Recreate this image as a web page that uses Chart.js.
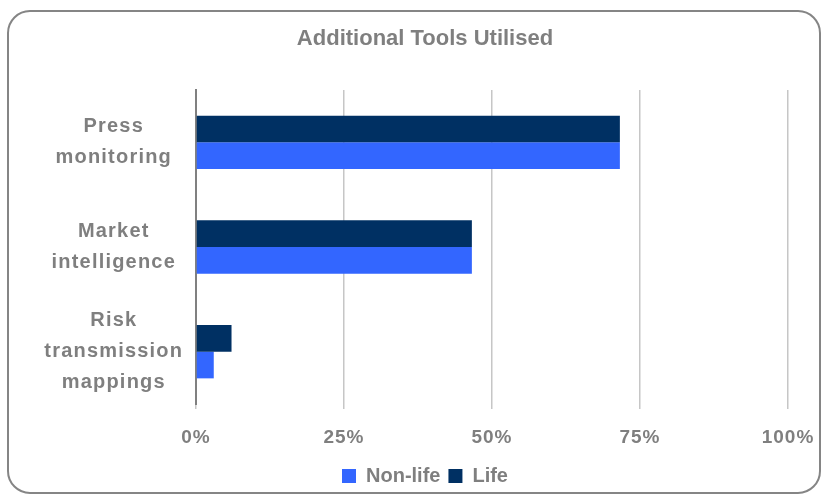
<!DOCTYPE html>
<html>
<head>
<meta charset="utf-8">
<script src="https://cdn.jsdelivr.net/npm/chart.js@4"></script>
<style>
  body { margin: 0; background: #fff; }
  #wrap { position: relative; width: 822px; height: 500px; }
</style>
</head>
<body>
<div id="wrap"><canvas id="myChart" width="822" height="500"></canvas></div>
<script>
const categories = [['Press', 'monitoring'], ['Market', 'intelligence'], ['Risk', 'transmission', 'mappings']];
const lifeValues = [71.6, 46.6, 6.0];
const nonLifeValues = [71.6, 46.6, 3.0];
const tickLabels = ['0%', '25%', '50%', '75%', '100%'];

const grey = '#7f7f7f';
const fontFamily = 'Liberation Sans, Arial, sans-serif';

// rounded frame round the whole chart
const frame = {
    id: 'frame',
    beforeDraw(chart) {
        const c = chart.ctx;
        c.save();
        c.fillStyle = '#fff';
        c.fillRect(0, 0, chart.width, chart.height);
        c.strokeStyle = '#858585';
        c.lineWidth = 2;
        c.beginPath();
        c.roundRect(8, 11, 812, 482, 22);
        c.stroke();
        c.restore();
    }
};

// wider letter spacing on the axis labels, and no clipping of the category labels
function spaced(scale, spacing) {
    const base = Object.getPrototypeOf(scale).drawLabels;
    scale.drawLabels = function (area) {
        const c = this.ctx;
        const old = c.letterSpacing;
        c.letterSpacing = spacing;
        base.call(this, area);
        c.letterSpacing = old;
    };
}
const labelSpacing = {
    id: 'labelSpacing',
    beforeDraw(chart) {
        const y = chart.scales.y;
        if (!y._patched) {
            y._computeLabelArea = () => undefined;
            spaced(y, '1.2px');
            spaced(chart.scales.x, '1px');
            y._patched = true;
        }
    }
};

const ctx = document.getElementById('myChart').getContext('2d');
const myChart = new Chart(ctx, {
    type: 'bar',
    data: {
        labels: categories,
        datasets: [
            { label: 'Life', data: lifeValues, backgroundColor: '#003063' },
            { label: 'Non-life', data: nonLifeValues, backgroundColor: '#3366ff' }
        ]
    },
    options: {
        indexAxis: 'y',
        responsive: false,
        animation: false,
        datasets: { bar: { categoryPercentage: 0.51, barPercentage: 1 } },
        layout: { padding: { left: 62, right: 34, top: 26, bottom: 4 } },
        scales: {
            x: {
                min: 0,
                max: 100,
                afterBuildTicks(scale) {
                    scale.ticks = tickLabels.map((t, i) => ({ value: i * 25 }));
                },
                afterFit(scale) {
                    scale.height = 54;
                    scale.paddingLeft = 0;
                    scale.paddingRight = 0;
                },
                ticks: {
                    callback: (v, i) => tickLabels[i],
                    color: grey,
                    font: { family: fontFamily, size: 19, weight: 'bold' },
                    padding: 17,
                    maxRotation: 0
                },
                grid: { color: '#c6c6c6', lineWidth: 1.5, tickLength: 5 },
                border: { display: false }
            },
            y: {
                afterFit(scale) { scale.width = 134; },
                ticks: {
                    color: grey,
                    crossAlign: 'center',
                    padding: 12,
                    font: { family: fontFamily, size: 20, weight: 'bold', lineHeight: 31 / 20 }
                },
                grid: { display: false },
                border: { color: '#808080', width: 2 }
            }
        },
        plugins: {
            title: {
                display: true,
                text: 'Additional Tools Utilised',
                color: grey,
                font: { family: fontFamily, size: 22, weight: 'bold' },
                padding: { top: 0, bottom: 37.6 }
            },
            legend: {
                position: 'bottom',
                reverse: true,
                labels: {
                    color: grey,
                    boxWidth: 14,
                    boxHeight: 14,
                    padding: 8,
                    font: { family: fontFamily, size: 20, weight: 'bold' }
                }
            },
            tooltip: { enabled: false }
        }
    },
    plugins: [frame, labelSpacing]
});
</script>
</body>
</html>
